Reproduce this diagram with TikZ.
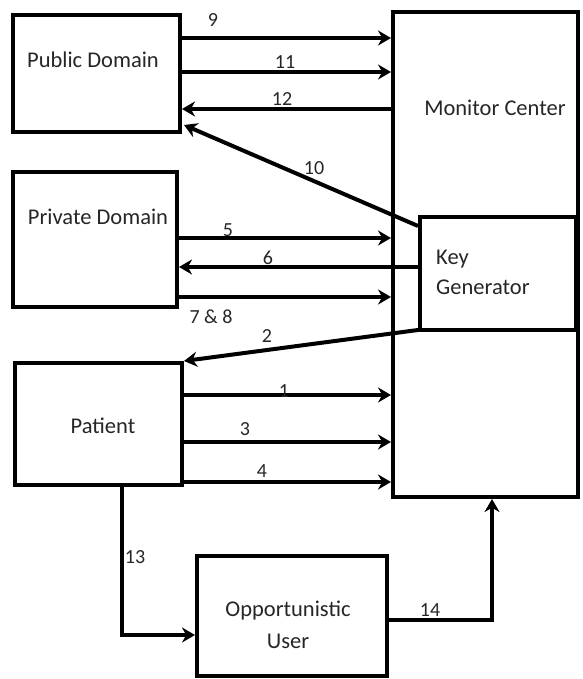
\documentclass[tikz,border=0pt]{standalone}
\usepackage{fontspec}
\setmainfont{Carlito}
\usetikzlibrary{arrows.meta}
\begin{document}
\begin{tikzpicture}[x=1pt,y=-1pt,
  box/.style={draw, line width=4pt, inner sep=0pt, fill=white},
  txt/.style={font=\fontsize{22.5}{27}\selectfont, text=black!85, inner sep=0pt},
  num/.style={font=\fontsize{20}{23}\selectfont, text=black!85, inner sep=0pt},
  conn/.style={line width=4pt, -{Stealth[length=13pt,width=15pt]}}]
\useasboundingbox (0,0) rectangle (582,679);
% boxes
\node[box, minimum width=185pt, minimum height=485pt] (mon) at (485.5,254.5) {};
\node[box, minimum width=167pt, minimum height=117pt] (pub) at (96.5,73.5) {};
\node[box, minimum width=164pt, minimum height=135pt] (pri) at (95,239.5) {};
\node[box, minimum width=156pt, minimum height=113pt] (key) at (498,273.5) {};
\node[box, minimum width=167pt, minimum height=122pt] (pat) at (98.5,424) {};
\node[box, minimum width=190pt, minimum height=120pt] (opp) at (292,616) {};
% texts
\node[txt] (tpub) at (93,60) {Public Domain};
\node[txt] (tmon) at (495,108) {Monitor Center};
\node[txt] (tpri) at (98,217) {Private Domain};
\node[txt, align=left, anchor=west] (tkey) at (436,272) {Key\\[3pt]Generator};
\node[txt] (tpat) at (103,426) {Patient};
\node[txt, align=center] (topp) at (288,625) {Opportunistic\\[5pt]User};
% connectors
\draw[conn] (pub.east |- 0,38) -- (mon.west |- 0,38);
\draw[conn] (pub.east |- 0,72) -- (mon.west |- 0,72);
\draw[conn] (mon.west |- 0,109) -- (pub.east |- 0,109);
\draw[conn] ([yshift=-11pt]key.north west) -- ([xshift=2pt,yshift=9pt]pub.south east);
\draw[conn] (pri.east |- 0,238) -- (mon.west |- 0,238);
\draw[conn] (key.west |- 0,267) -- (pri.east |- 0,267);
\draw[conn] (pri.east |- 0,297) -- (mon.west |- 0,297);
\draw[conn] ([yshift=2pt]key.south west) -- (pat.north east);
\draw[conn] (pat.east |- 0,395) -- (mon.west |- 0,395);
\draw[conn] (pat.east |- 0,442) -- (mon.west |- 0,442);
\draw[conn] (pat.east |- 0,482) -- (mon.west |- 0,482);
\draw[conn] (pat.south -| 122,0) |- (opp.west |- 0,635);
\draw[conn] (opp.east |- 0,620) -| (mon.south -| 492,0);
% labels
\node[num] (l9) at (213,20) {9};
\node[num] (l11) at (285,62) {11};
\node[num] (l12) at (282,99) {12};
\node[num] (l10) at (314,168) {10};
\node[num] (l5) at (228,230) {5};
\node[num] (l6) at (268,258) {6};
\node[num] (l78) at (211,317) {7 \& 8};
\node[num] (l2) at (267,336) {2};
\node[num] (l1) at (284,391) {1};
\node[num] (l3) at (245,429) {3};
\node[num] (l4) at (262,471) {4};
\node[num] (l13) at (135,557) {13};
\node[num] (l14) at (430,610) {14};
\end{tikzpicture}
\end{document}
